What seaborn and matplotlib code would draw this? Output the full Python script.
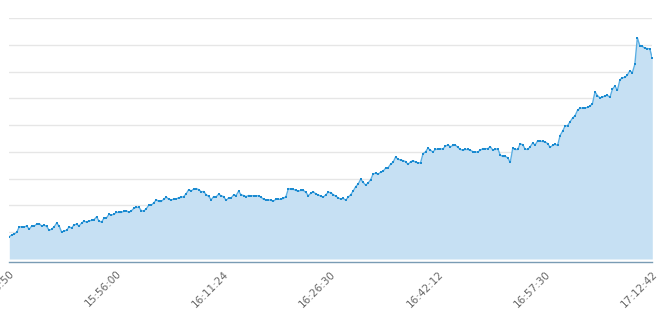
import matplotlib
matplotlib.use("Agg")
import matplotlib.pyplot as plt
import seaborn as sns
import numpy as np
import pandas as pd

# values in grid units (one horizontal grid line per unit)
interval_1 = [0.83, 0.90, 0.93, 1.00, 1.20, 1.20, 1.20, 1.23, 1.11, 1.23,
              1.23, 1.30, 1.32, 1.23, 1.26, 1.22, 1.07, 1.11, 1.20, 1.34,
              1.23, 1.00, 1.05, 1.07, 1.20, 1.16, 1.27, 1.30, 1.23, 1.34,
              1.41, 1.38, 1.42, 1.44, 1.47, 1.57, 1.42, 1.38, 1.52, 1.53,
              1.67, 1.64, 1.67]
interval_2 = [1.74, 1.74, 1.74, 1.78, 1.80, 1.74, 1.80, 1.89, 1.93, 1.93,
              1.80, 1.79, 1.88, 2.01, 2.01, 2.10, 2.21, 2.15, 2.15, 2.23,
              2.31, 2.23, 2.21, 2.23, 2.24, 2.29, 2.30, 2.33, 2.44, 2.59,
              2.54, 2.61, 2.63, 2.59, 2.51, 2.52, 2.40, 2.34, 2.21, 2.33,
              2.32, 2.42, 2.36]
interval_3 = [2.33, 2.19, 2.28, 2.28, 2.39, 2.37, 2.53, 2.40, 2.37, 2.33,
              2.37, 2.36, 2.36, 2.36, 2.36, 2.31, 2.23, 2.21, 2.21, 2.19,
              2.16, 2.23, 2.23, 2.23, 2.26, 2.33, 2.63, 2.60, 2.60, 2.56,
              2.53, 2.56, 2.56, 2.49, 2.36, 2.46, 2.51, 2.43, 2.39, 2.35,
              2.31, 2.40, 2.49]
interval_4 = [2.48, 2.40, 2.35, 2.28, 2.24, 2.26, 2.20, 2.31, 2.40, 2.54,
              2.70, 2.80, 2.98, 2.86, 2.76, 2.84, 2.96, 3.18, 3.20, 3.17,
              3.24, 3.28, 3.39, 3.41, 3.54, 3.61, 3.81, 3.72, 3.70, 3.67,
              3.64, 3.53, 3.63, 3.67, 3.62, 3.59, 3.59, 3.93, 4.00, 4.14,
              4.06, 4.00, 4.09]
interval_5 = [4.11, 4.11, 4.11, 4.21, 4.26, 4.19, 4.24, 4.25, 4.17, 4.09,
              4.06, 4.09, 4.09, 4.06, 4.01, 3.99, 4.00, 4.06, 4.12, 4.12,
              4.12, 4.19, 4.07, 4.09, 4.12, 3.88, 3.83, 3.83, 3.78, 3.61,
              4.13, 4.09, 4.09, 4.30, 4.27, 4.10, 4.09, 4.19, 4.33, 4.26,
              4.41, 4.40, 4.39]
interval_6 = [4.37, 4.31, 4.17, 4.24, 4.28, 4.24, 4.61, 4.77, 4.96, 4.98,
              5.12, 5.26, 5.35, 5.55, 5.63, 5.64, 5.64, 5.66, 5.71, 5.80,
              6.24, 6.10, 6.02, 6.04, 6.09, 6.11, 6.04, 6.34, 6.46, 6.30,
              6.69, 6.77, 6.78, 6.87, 7.03, 6.96, 7.27, 8.26, 7.96, 7.94,
              7.87, 7.86, 7.85, 7.49]

tick_labels = ["15:40:50", "15:56:00", "16:11:24", "16:26:30",
               "16:42:12", "16:57:30", "17:12:42"]
points_per_tick = 43

values = interval_1 + interval_2 + interval_3 + interval_4 + interval_5 + interval_6
df = pd.DataFrame({"idx": np.arange(len(values)), "value": values})

sns.set_style("white")
fig = plt.figure(figsize=(6.65, 3.13), dpi=100)
ax = fig.add_axes([9.3 / 665, (313 - 259) / 313, (652.3 - 9.3) / 665, (259 - 18) / 313])

ax.fill_between(df["idx"], df["value"], 0, color="#c6e0f3", linewidth=0, zorder=1)
sns.lineplot(data=df, x="idx", y="value", ax=ax, color="#5aaee3", linewidth=1.0,
             marker="s", markersize=2.0, markeredgewidth=0, markerfacecolor="#1a8ad0",
             zorder=3)

for s in ["top", "right", "left"]:
    ax.spines[s].set_visible(False)
ax.spines["bottom"].set_color("#7a9cb4")
ax.spines["bottom"].set_linewidth(1)
ax.spines["bottom"].set_position(("outward", 2))
ax.set_xlabel("")
ax.set_ylabel("")

ax.set_xlim(0, len(values) - 1)
ax.set_ylim(0, 9)
ax.set_yticks(np.arange(1, 10))
ax.set_yticklabels([])
ax.tick_params(axis="y", length=0)
ax.grid(axis="y", color="#e6e6e6", linewidth=1.0, zorder=0)
ax.set_axisbelow(True)

tick_pos = [i * points_per_tick for i in range(len(tick_labels))]
ax.set_xticks(tick_pos)
ax.set_xticklabels(tick_labels)
ax.tick_params(axis="x", length=4, width=1, color="#7a9cb4", direction="out", pad=1,
               labelsize=7.5, labelcolor="#666666", labelrotation=45)
for lab in ax.get_xticklabels():
    lab.set_ha("right")
    lab.set_va("top")
    lab.set_rotation_mode("anchor")

fig.savefig("out.png", dpi=100)
